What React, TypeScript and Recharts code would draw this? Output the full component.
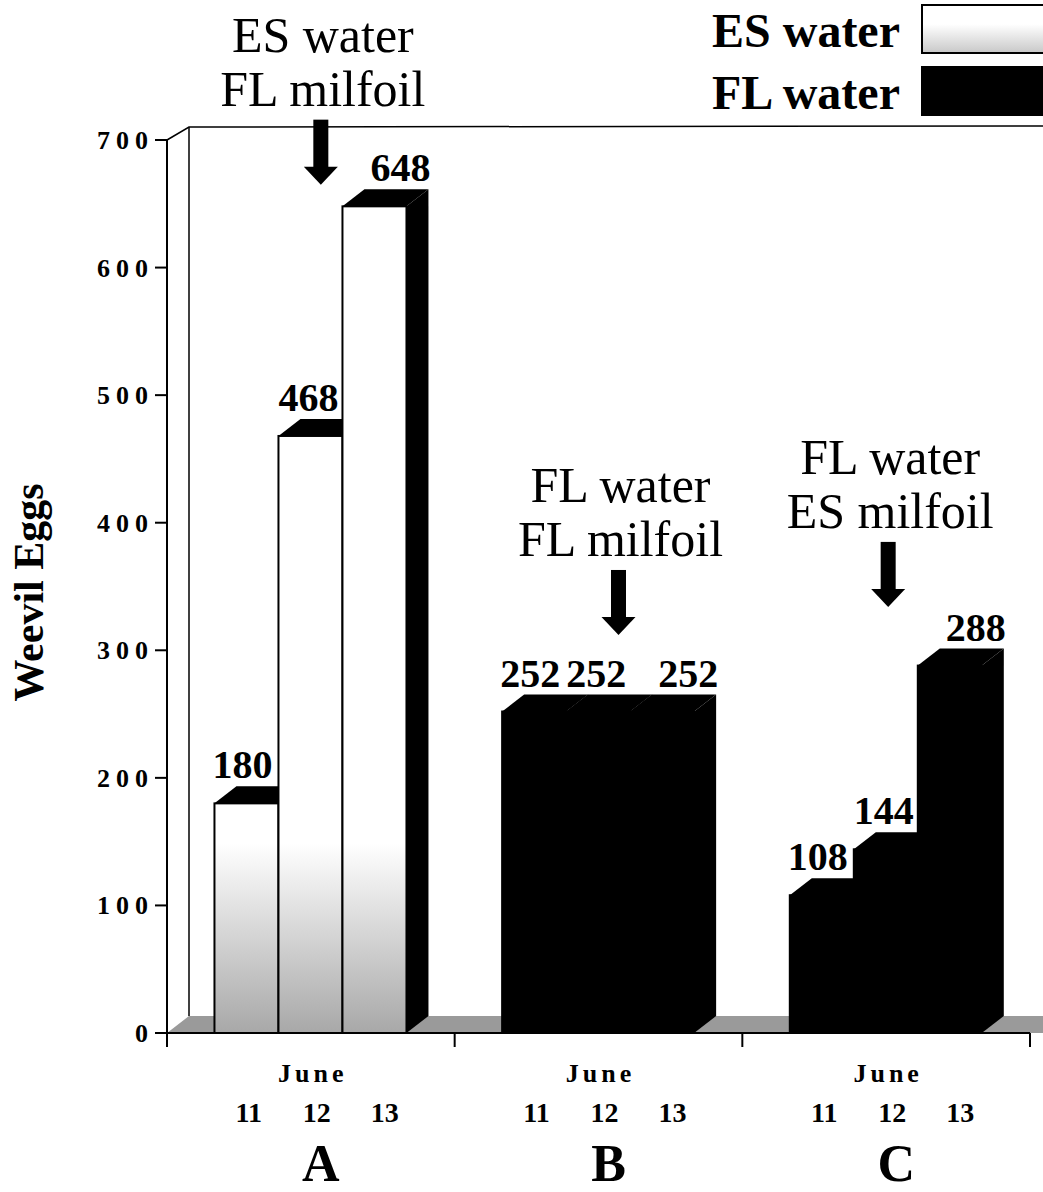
import React from "react";
import {
    BarChart,
    Bar,
    XAxis,
    YAxis,
    Legend,
    LabelList,
    ReferenceDot,
} from "recharts";

// groups, days and values
const groups = ["A", "B", "C"];
const dayLabels = ["11", "12", "13"];
const june11 = [180, 252, 108];
const june12 = [468, 252, 144];
const june13 = [648, 252, 288];
const waterType = ["ES", "FL", "FL"];
const yTicks = [0, 100, 200, 300, 400, 500, 600, 700];

// treatment notes above each group, arrow tip given in "eggs" units
const noteLines = [
    ["ES water", "FL milfoil"],
    ["FL water", "FL milfoil"],
    ["FL water", "ES milfoil"],
];
const noteTip = [665, 312, 334];

const legendItems = [
    { label: "ES water", fill: "url(#esLegend)" },
    { label: "FL water", fill: "#000" },
];

const W = 1043;
const H = 1192;
const PLOT_L = 167;
const PLOT_R = 1030;
const PLOT_T = 140;
const PLOT_B = 1033;
const PLOT_W = PLOT_R - PLOT_L;
const DX = 22;
const DY = -17;
const FONT = '"Liberation Serif", "Times New Roman", serif';
const labelShift = [-4, -2, 26];
const noteShift = [10, 20, 2];

const data = groups.map((g, i) => ({
    group: g,
    d11: june11[i],
    d12: june12[i],
    d13: june13[i],
    water: waterType[i],
}));

const Bar3D = (props: any) => {
    const { x, y, width, height, payload } = props;
    if (!height) return null;
    const es = payload.water === "ES";
    const top = `M${x},${y} L${x + DX},${y + DY} L${x + width + DX},${y + DY} L${x + width},${y} Z`;
    const side = `M${x + width},${y} L${x + width + DX},${y + DY} L${x + width + DX},${y + height + DY} L${x + width},${y + height} Z`;
    return (
        <g>
            <path d={side} fill="#000" />
            <path d={top} fill="#000" />
            <rect
                x={x}
                y={y}
                width={width}
                height={height}
                fill={es ? "url(#esFill)" : "#000"}
                stroke="#000"
                strokeWidth={2}
            />
        </g>
    );
};

const valueLabel = (k: number) => (p: any) => (
    <text
        x={p.x + p.width / 2 + labelShift[k]}
        y={p.y + DY - 8}
        textAnchor="middle"
        fontFamily={FONT}
        fontWeight="bold"
        fontSize={40}
        fill="#000"
    >
        {p.value}
    </text>
);

const XTick = (props: any) => {
    const { x, y, payload, index } = props;
    const step = PLOT_W / groups.length;
    return (
        <g fontFamily={FONT} fontWeight="bold" fill="#000">
            <line x1={x - step / 2} y1={y} x2={x - step / 2} y2={y + 14} stroke="#000" strokeWidth={2} />
            {index === groups.length - 1 && (
                <line x1={x + step / 2} y1={y} x2={x + step / 2} y2={y + 14} stroke="#000" strokeWidth={2} />
            )}
            <text x={x + 2} y={y + 49} textAnchor="middle" fontSize={26} letterSpacing={4}>
                June
            </text>
            {dayLabels.map((d, k) => (
                <text key={d} x={x + (k - 1) * 68 + 6} y={y + 89} textAnchor="middle" fontSize={28}>
                    {d}
                </text>
            ))}
            <text x={x + 10} y={y + 148} textAnchor="middle" fontSize={52}>
                {payload.value}
            </text>
        </g>
    );
};

const YTick = (props: any) => {
    const { x, y, payload } = props;
    return (
        <text
            x={x + 7}
            y={y + 9}
            textAnchor="end"
            fontFamily={FONT}
            fontWeight="bold"
            fontSize={26}
            letterSpacing={6}
            fill="#000"
        >
            {payload.value}
        </text>
    );
};

const NoteArrow = (i: number) => (p: any) => {
    const cx = p.cx + noteShift[i];
    const cy = p.cy;
    return (
        <g>
            <rect x={cx - 7.5} y={cy - 65} width={15} height={48} fill="#000" />
            <path d={`M${cx - 17},${cy - 18} L${cx + 17},${cy - 18} L${cx},${cy} Z`} fill="#000" />
            <text x={cx + 2} y={cy - 133} textAnchor="middle" fontFamily={FONT} fontSize={50} fill="#000">
                {noteLines[i][0]}
            </text>
            <text x={cx + 2} y={cy - 79} textAnchor="middle" fontFamily={FONT} fontSize={50} fill="#000">
                {noteLines[i][1]}
            </text>
        </g>
    );
};

const LegendBox = () => (
    <svg width={343} height={125}>
        {legendItems.map((item, i) => (
            <g key={item.label}>
                <text
                    x={12}
                    y={47 + i * 62}
                    fontFamily={FONT}
                    fontWeight="bold"
                    fontSize={48}
                    fill="#000"
                >
                    {item.label}
                </text>
                <rect x={222} y={5 + i * 62} width={125} height={48} fill={item.fill} stroke="#000" strokeWidth={2} />
            </g>
        ))}
    </svg>
);

const App: React.FC = () => {
    return (
        <div style={{ position: "absolute", left: 0, top: 0, width: W, height: H, background: "#fff" }}>
            {/* gradients shared by the bars and the legend */}
            <svg width={0} height={0} style={{ position: "absolute" }}>
                <defs>
                    <linearGradient id="esFill" gradientUnits="userSpaceOnUse" x1={0} y1={PLOT_B - 190} x2={0} y2={PLOT_B}>
                        <stop offset="0%" stopColor="#fff" />
                        <stop offset="100%" stopColor="#a8a8a8" />
                    </linearGradient>
                    <linearGradient id="esLegend" x1={0} y1={0} x2={0} y2={1}>
                        <stop offset="40%" stopColor="#fff" />
                        <stop offset="100%" stopColor="#c8c8c8" />
                    </linearGradient>
                </defs>
            </svg>

            {/* back wall and floor of the 3-D frame */}
            <svg width={W} height={H} style={{ position: "absolute", left: 0, top: 0 }}>
                <path
                    d={`M${PLOT_L},${PLOT_B} L${PLOT_L + DX},${PLOT_B + DY} L${W},${PLOT_B + DY} L${W},${PLOT_B} Z`}
                    fill="#9a9a9a"
                />
                <path
                    d={`M${PLOT_L},${PLOT_T} L${PLOT_L + DX},${PLOT_T - 13} L${W},${PLOT_T - 14}`}
                    fill="none"
                    stroke="#000"
                    strokeWidth={1.5}
                />
                <line x1={PLOT_L + DX} y1={PLOT_T - 13} x2={PLOT_L + DX} y2={PLOT_B + DY} stroke="#000" strokeWidth={1.5} />
            </svg>

            <div style={{ position: "absolute", left: 0, top: 0 }}>
                <BarChart
                    width={W}
                    height={H}
                    data={data}
                    margin={{ top: PLOT_T, right: W - PLOT_R, left: 0, bottom: 0 }}
                    barGap={0}
                    barCategoryGap="16.5%"
                >
                    <XAxis
                        dataKey="group"
                        height={H - PLOT_B}
                        tickLine={false}
                        tickSize={0}
                        tickMargin={0}
                        axisLine={{ stroke: "#000", strokeWidth: 2 }}
                        tick={<XTick />}
                        interval={0}
                    />
                    <YAxis
                        width={PLOT_L}
                        domain={[0, 700]}
                        ticks={yTicks}
                        interval={0}
                        tickSize={12}
                        tickMargin={8}
                        tickLine={{ stroke: "#000", strokeWidth: 2 }}
                        axisLine={{ stroke: "#000", strokeWidth: 2 }}
                        tick={<YTick />}
                        label={{
                            value: "Weevil Eggs",
                            content: (p: any) => {
                                const vb = p.viewBox;
                                const cx = vb.x + 43;
                                const cy = vb.y + vb.height / 2 + 6;
                                return (
                                    <text
                                        x={cx}
                                        y={cy}
                                        transform={`rotate(-90, ${cx}, ${cy})`}
                                        textAnchor="middle"
                                        fontFamily={FONT}
                                        fontWeight="bold"
                                        fontSize={42}
                                        fill="#000"
                                    >
                                        Weevil Eggs
                                    </text>
                                );
                            },
                        }}
                    />
                    <Legend
                        layout="horizontal"
                        verticalAlign="middle"
                        align="center"
                        content={<LegendBox />}
                        wrapperStyle={{ position: "absolute", left: 700, top: 0, width: 343, height: 125 }}
                    />
                    <Bar dataKey="d11" shape={Bar3D} isAnimationActive={false}>
                        <LabelList dataKey="d11" content={valueLabel(0)} />
                    </Bar>
                    <Bar dataKey="d12" shape={Bar3D} isAnimationActive={false}>
                        <LabelList dataKey="d12" content={valueLabel(1)} />
                    </Bar>
                    <Bar dataKey="d13" shape={Bar3D} isAnimationActive={false}>
                        <LabelList dataKey="d13" content={valueLabel(2)} />
                    </Bar>
                    {groups.map((g, i) => (
                        <ReferenceDot
                            key={g}
                            x={g}
                            y={noteTip[i]}
                            r={0}
                            ifOverflow="visible"
                            shape={NoteArrow(i)}
                        />
                    ))}
                </BarChart>
            </div>
        </div>
    );
};

export default App;
